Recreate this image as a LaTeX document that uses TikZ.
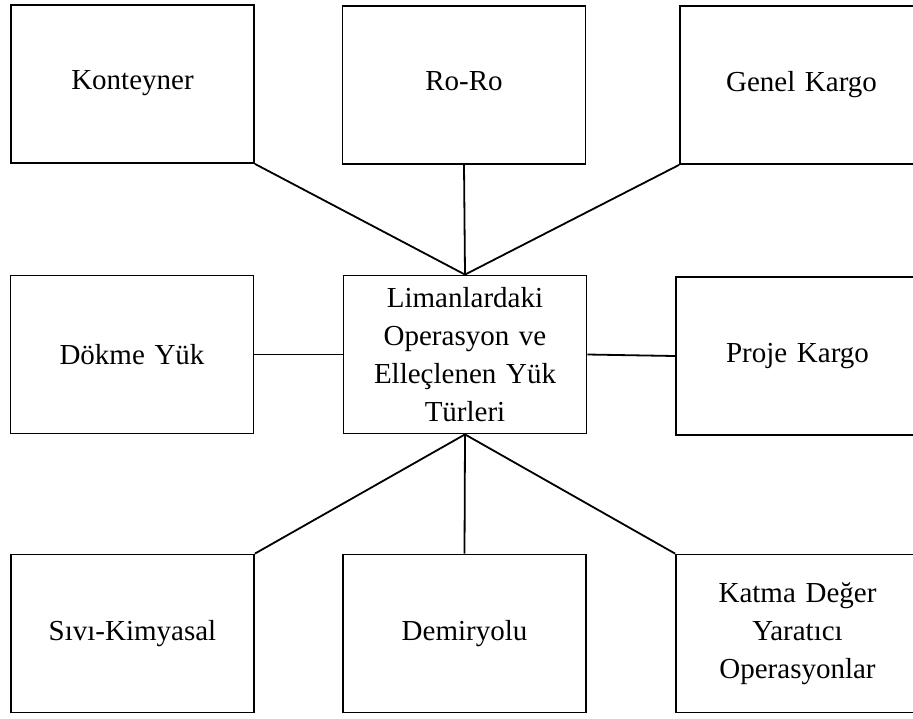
\documentclass[tikz,border=0pt]{standalone}
\usepackage{fontspec}
\setmainfont{Liberation Serif}
\tikzset{
  kutu/.style={draw, line width=0.9pt, minimum width=121.5pt, minimum height=79pt,
    inner sep=0pt, text width=115pt, align=center, font=\fontsize{14.5}{19}\selectfont},
  bag/.style={line width=0.9pt}
}
\begin{document}
\begin{tikzpicture}[x=0.5pt,y=-0.5pt]
\path[use as bounding box, clip] (0,0) rectangle (913,718);
% ust sira
\node[kutu] (konteyner) at (132.5,84) {\raisebox{4pt}{Konteyner}};
\node[kutu] (roro) at (464,85) {\raisebox{4pt}{Ro-Ro}};
\node[kutu] (genel) at (801.5,85) {\raisebox{4pt}{Genel Kargo}};
% orta sira
\node[kutu] (dokme) at (132,354.5) {D\"okme Y\"uk};
\node[kutu] (merkez) at (465,354.5) {Limanlardaki\\Operasyon ve\\Elle\c{c}lenen Y\"uk\\T\"urleri};
\node[kutu] (proje) at (797.5,356) {Proje Kargo};
% alt sira
\node[kutu] (sivi) at (132.5,633.5) {S\i v\i-Kimyasal};
\node[kutu] (demir) at (464.5,633.5) {Demiryolu};
\node[kutu] (katma) at (797.5,633.5) {Katma De\u{g}er\\Yarat\i c\i\\Operasyonlar};
% baglantilar
\draw[bag] (merkez.north) -- (konteyner.south east);
\draw[bag] (merkez.north) -- (roro.south);
\draw[bag] (merkez.north) -- (genel.south west);
\draw[bag] (dokme.east) -- (merkez.west);
\draw[bag] (merkez.east) -- (proje.west);
\draw[bag] (merkez.south) -- (sivi.north east);
\draw[bag] (merkez.south) -- (demir.north);
\draw[bag] (merkez.south) -- (katma.north west);
\end{tikzpicture}
\end{document}
